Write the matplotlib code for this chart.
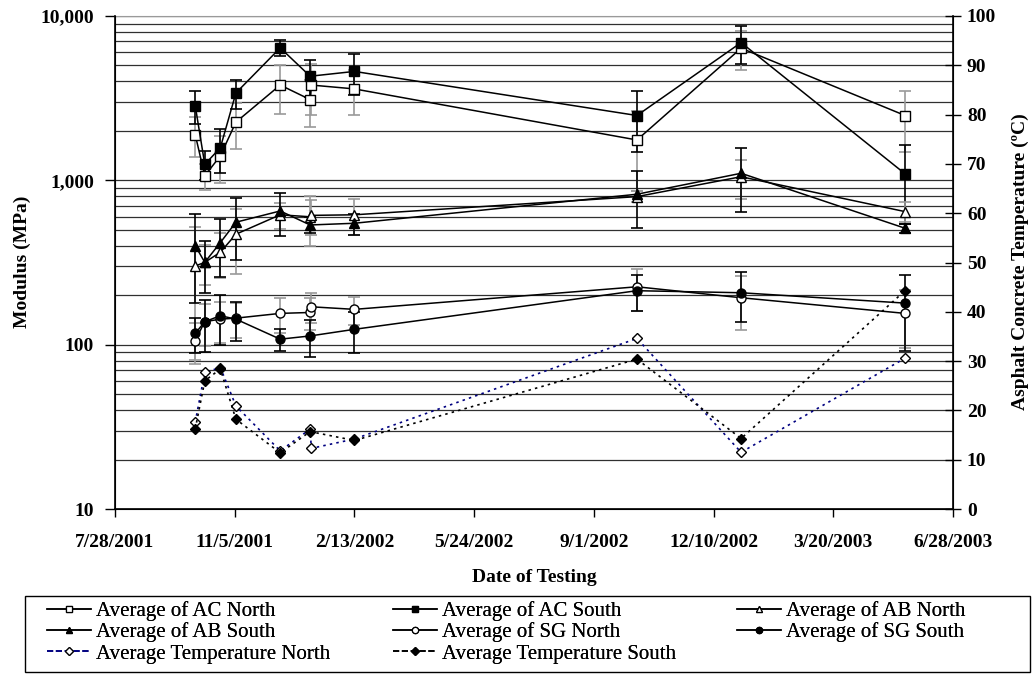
import matplotlib
matplotlib.use("Agg")
import matplotlib.pyplot as plt
from matplotlib.lines import Line2D
from matplotlib.patches import Rectangle
import pandas as pd

plt.rcParams["font.family"] = ["Liberation Serif", "DejaVu Serif"]

# test dates (north has two tests in early January 2002)
north_dates = ["2001-10-03", "2001-10-11", "2001-10-24", "2001-11-06", "2001-12-13",
               "2002-01-07", "2002-01-08", "2002-02-13", "2002-10-07", "2003-01-02", "2003-05-19"]
south_dates = ["2001-10-03", "2001-10-11", "2001-10-24", "2001-11-06", "2001-12-13",
               "2002-01-07", "2002-02-13", "2002-10-07", "2003-01-02", "2003-05-19"]

# moduli (MPa) and error bars
ac_north = [1900, 1065, 1410, 2260, 3800, 3100, 3800, 3600, 1760, 6370, 2480]
ac_north_err = [520, 190, 440, 700, 1250, 1000, 1300, 1100, 900, 1700, 1000]
ac_south = [2850, 1250, 1580, 3400, 6400, 4300, 4600, 2480, 6890, 1095]
ac_south_err = [650, 250, 475, 700, 700, 1100, 1300, 1000, 1800, 550]

ab_north = [301, 317, 365, 470, 617, 600, 612, 617, 796, 1052, 645]
ab_north_err = [220, 85, 110, 200, 110, 200, 150, 150, 60, 280, 90]
ab_south = [400, 317, 418, 556, 651, 535, 548, 823, 1104, 511]
ab_south_err = [220, 110, 160, 230, 190, 60, 80, 310, 460, 35]

sg_north = [106, 138, 143, 145, 155, 157, 170, 164, 225, 193, 155]
sg_north_err = [30, 40, 40, 35, 38, 35, 35, 32, 64, 70, 60]
sg_south = [117, 138, 150, 143, 108, 113, 124, 213, 207, 179]
sg_south_err = [28, 48, 50, 38, 16, 29, 35, 52, 70, 87]

# asphalt concrete temperature (C)
temp_north = [17.6, 27.7, 28.7, 20.9, 11.8, 16.2, 12.3, 14.2, 34.6, 11.5, 30.6]
temp_south = [16.2, 26.0, 28.4, 18.2, 11.4, 15.7, 13.9, 30.4, 14.3, 44.3]

xn = pd.to_datetime(north_dates)
xs = pd.to_datetime(south_dates)

W, H = 1034, 675
fig = plt.figure(figsize=(W / 100, H / 100), dpi=100)
ax = fig.add_axes([115 / W, 1 - 509 / H, (953 - 115) / W, 493 / H])

grey = "#9a9a9a"
lw = 1.1

def series(x, y, err, marker, face, ecol, label):
    ax.errorbar(x, y, yerr=err, fmt="none", ecolor=ecol, elinewidth=1.2,
                capsize=4, capthick=1.2, zorder=2)
    ln, = ax.plot(x, y, color="black", lw=lw, marker=marker, ms=6.5,
                  mfc=face, mec="black", mew=1.0, zorder=3, label=label)
    return ln

h_acn = series(xn, ac_north, ac_north_err, "s", "white", grey, "Average of AC North")
h_acs = series(xs, ac_south, ac_south_err, "s", "black", "black", "Average of AC South")
h_abn = series(xn, ab_north, ab_north_err, "^", "white", grey, "Average of AB North")
h_abs = series(xs, ab_south, ab_south_err, "^", "black", "black", "Average of AB South")
h_sgn = series(xn, sg_north, sg_north_err, "o", "white", grey, "Average of SG North")
h_sgs = series(xs, sg_south, sg_south_err, "o", "black", "black", "Average of SG South")

ax.set_yscale("log")
ax.set_ylim(10, 10000)
ax.set_yticks([10, 100, 1000, 10000])
ax.set_yticklabels(["10", "100", "1,000", "10,000"])
ax.yaxis.grid(True, which="both", color="#303030", lw=0.9)
ax.tick_params(axis="y", which="minor", length=0)
ax.tick_params(axis="y", which="major", direction="out", length=7, width=1,
               labelsize=14, pad=8)

start = pd.Timestamp("2001-07-28")
end = pd.Timestamp("2003-06-28")
xticks = pd.date_range(start, end, freq="100D")
ax.set_xlim(start, end)
ax.set_xticks(xticks)
ax.set_xticklabels([f"{d.month}/{d.day}/{d.year}" for d in xticks])
ax.tick_params(axis="x", direction="out", length=6, width=1, labelsize=14, pad=12)
for lab in ax.get_xticklabels() + ax.get_yticklabels():
    lab.set_fontweight("bold")
ax.spines["top"].set_color(grey)
ax.spines["left"].set_linewidth(1.2)
ax.spines["bottom"].set_linewidth(1.2)

ax2 = ax.twinx()
h_tn, = ax2.plot(xn, temp_north, color="#000080", lw=1.2, ls=(0, (1.5, 2.5)),
                 marker="D", ms=5.5, mfc="white", mec="black", mew=1.0,
                 label="Average Temperature North")
h_ts, = ax2.plot(xs, temp_south, color="black", lw=1.2, ls=(0, (1.5, 2.5)),
                 marker="D", ms=5.5, mfc="black", mec="black", mew=1.0,
                 label="Average Temperature South")
ax2.set_ylim(0, 100)
ax2.set_yticks(range(0, 101, 10))
ax2.tick_params(axis="y", direction="inout", length=12, width=1, labelsize=14, pad=4)
for lab in ax2.get_yticklabels():
    lab.set_fontweight("bold")
ax2.spines["right"].set_linewidth(1.2)
ax2.spines["top"].set_visible(False)

fig.text(534 / W, 1 - 577 / H, "Date of Testing", ha="center", va="center",
         fontsize=14, fontweight="bold")
fig.text(22 / W, 1 - 262 / H, "Modulus (MPa)", ha="center", va="center",
         rotation=90, fontsize=14, fontweight="bold")
fig.text(1020 / W, 1 - 262 / H, "Asphalt Concrete Temperature (ºC)", ha="center",
         va="center", rotation=90, fontsize=14, fontweight="bold")

# legend: frame plus three single-column legends
fig.patches.append(Rectangle((25 / W, 1 - 672 / H), 1005 / W, 76 / H,
                             transform=fig.transFigure, fill=False,
                             edgecolor="black", lw=1.0))

def small(h):
    return Line2D([], [], color=h.get_color(), lw=h.get_linewidth(),
                  ls=h.get_linestyle(), marker=h.get_marker(), ms=4.5,
                  mfc=h.get_markerfacecolor(), mec="black", mew=0.9)

columns = [[h_acn, h_abs, h_tn], [h_acs, h_sgn, h_ts], [h_abn, h_sgs]]
col_x = [47, 393, 737]
for hs, x in zip(columns, col_x):
    lg = fig.legend([small(h) for h in hs], [h.get_label() for h in hs],
                    loc="upper left", bbox_to_anchor=(x / W, 1 - 601 / H),
                    frameon=False, fontsize=15, handlelength=2.1,
                    handletextpad=0.25, labelspacing=0.08, borderpad=0,
                    borderaxespad=0)
    fig.add_artist(lg)

fig.savefig("out.png", dpi=100)
